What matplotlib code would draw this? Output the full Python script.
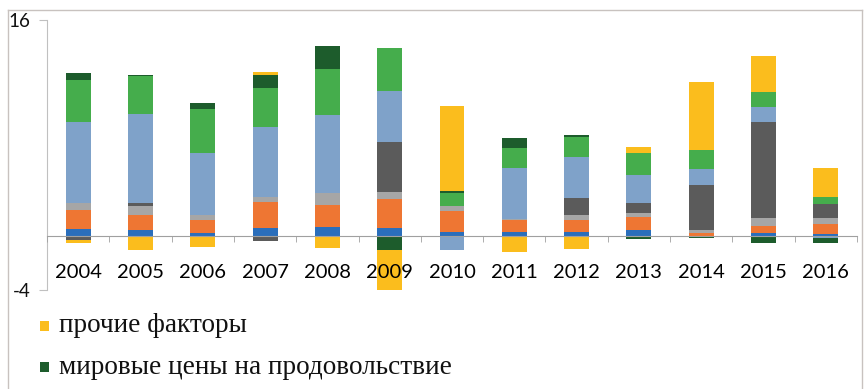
import numpy as np
import matplotlib
matplotlib.use("Agg")
import matplotlib.pyplot as plt
from matplotlib.patches import Rectangle

years = ["2004", "2005", "2006", "2007", "2008", "2009", "2010",
         "2011", "2012", "2013", "2014", "2015", "2016"]

# contributions, stacked in this order (bottom to top)
blue =       [0.50, 0.44, 0.24, 0.57, 0.64, 0.57, 0.30, 0.32, 0.32, 0.45, 0.00, 0.20, 0.13]
orange =     [1.43, 1.11, 0.94, 1.93, 1.65, 2.17, 1.56, 0.87, 0.87, 0.99, 0.24, 0.54, 0.76]
light_gray = [0.54, 0.67, 0.37, 0.37, 0.87, 0.54, 0.35, 0.10, 0.37, 0.25, 0.20, 0.57, 0.42]
dark_gray =  [-0.30, 0.25, 0.00, -0.35, 0.00, 3.70, 0.00, 0.00, 1.24, 0.79, 3.33, 7.16, 1.06]
light_blue = [6.00, 6.57, 4.57, 5.19, 5.80, 3.78, -1.05, 3.73, 3.08, 2.05, 1.19, 1.11, -0.15]
green =      [3.09, 2.81, 3.26, 2.89, 3.38, 3.14, 1.01, 1.48, 1.44, 1.65, 1.41, 1.11, 0.54]
food_world = [0.54, 0.10, 0.44, 0.98, 1.73, -1.00, 0.12, 0.78, 0.17, -0.20, -0.12, -0.54, -0.35]
other =      [-0.20, -1.04, -0.84, 0.20, -0.91, -3.00, 6.30, -1.20, -0.99, 0.44, 5.06, 2.64, 2.10]

series = [
    (blue, "#2a6ebb"),
    (orange, "#ee7633"),
    (light_gray, "#a6a6a6"),
    (dark_gray, "#5b5b5b"),
    (light_blue, "#7fa2c9"),
    (green, "#45ad4c"),
    (food_world, "#1d5c2c"),
    (other, "#fbbd1d"),
]

legend_labels = ["прочие факторы", "мировые цены на продовольствие"]

fig = plt.figure(figsize=(8.65, 3.89), dpi=100)
ax = fig.add_axes([47 / 865, 99 / 389, 810 / 865, 270 / 389])

x = np.arange(len(years))
pos_base = np.zeros(len(years))
neg_base = np.zeros(len(years))
for vals, col in series:
    v = np.array(vals)
    pos = np.where(v > 0, v, 0)
    neg = np.where(v < 0, v, 0)
    ax.bar(x, pos, 0.4, bottom=pos_base, color=col, linewidth=0, zorder=1)
    ax.bar(x, neg, 0.4, bottom=neg_base, color=col, linewidth=0, zorder=1)
    pos_base += pos
    neg_base += neg

ax.set_xlim(-0.5, len(years) - 0.5)
ax.set_ylim(-4, 16)
ax.set_axisbelow(False)

for s in ["top", "right"]:
    ax.spines[s].set_visible(False)
ax.spines["left"].set_color("#c0c0c0")
ax.spines["bottom"].set_position(("data", 0))
ax.spines["bottom"].set_color("#a0a0a0")

ax.set_yticks([-4, 16])
ax.set_yticklabels(["-4", "16"], fontsize=13.5, color="#111111", family="Lato")
ax.tick_params(axis="y", length=6, color="#c0c0c0", pad=6)

ax.set_xticks(x)
ax.set_xticklabels(years, fontsize=14.5, family="Lato", color="#000000")
ax.set_xticks(np.arange(len(years) + 1) - 0.5, minor=True)
ax.tick_params(axis="x", which="major", length=0, pad=20)
ax.tick_params(axis="x", which="minor", length=4, color="#a0a0a0")

# legend rows under the chart
for i, (lab, col) in enumerate(zip(legend_labels, ["#fbbd1d", "#1d5c2c"])):
    yc = (389 - 326 - i * 41) / 389
    fig.add_artist(Rectangle((40 / 865, yc - 5 / 389), 9 / 865, 10 / 389,
                             transform=fig.transFigure, color=col, linewidth=0))
    fig.text(59 / 865, yc, lab, fontsize=19.6, family="Liberation Serif",
             color="#111111", va="center", ha="left")

# outer frame
frame_kw = dict(transform=fig.transFigure, color="#c8c2bf", linewidth=1)
fig.add_artist(plt.Line2D([8 / 865, 8 / 865], [0, 379 / 389], **frame_kw))
fig.add_artist(plt.Line2D([8 / 865, 862 / 865], [379 / 389, 379 / 389], **frame_kw))
fig.add_artist(plt.Line2D([862 / 865, 862 / 865], [0, 379 / 389], **frame_kw))

fig.savefig("out.png", dpi=100)
